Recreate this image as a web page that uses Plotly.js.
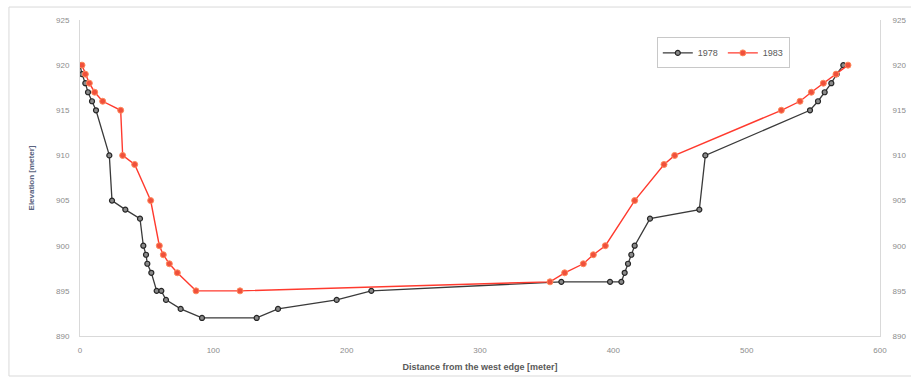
<!DOCTYPE html>
<html>
<head>
<meta charset="utf-8">
<script src="https://cdn.plot.ly/plotly-3.0.1.min.js"></script>
<style>html,body{margin:0;padding:0;background:#fff;}#chart{width:911px;height:378px;}</style>
</head>
<body>
<div id="chart"></div>
<script>
// Distance from the west edge [meter] and elevation [meter]
const x1978 = [0, 1.5, 4, 6, 9, 12, 22, 24, 34, 45, 47.5, 49.5, 50.5, 53.5, 57.5, 61, 64.5, 75.5, 91.5, 132.5, 148.5, 192.5, 218.5, 361, 397.5, 406, 408.5, 411, 413.5, 416, 427.5, 464.5, 469, 547.5, 553.5, 558.5, 563.5, 567.5, 572.5];
const y1978 = [920, 919, 918, 917, 916, 915, 910, 905, 904, 903, 900, 899, 898, 897, 895, 895, 894, 893, 892, 892, 893, 894, 895, 896, 896, 896, 897, 898, 899, 900, 903, 904, 910, 915, 916, 917, 918, 919, 920];
const x1983 = [1.5, 4, 7, 11, 17, 30.5, 32, 41, 53, 59.5, 62.5, 67, 73, 87, 120, 352.5, 363.5, 377.5, 385, 394, 416, 438, 446, 526, 540, 548.5, 557.5, 567, 576];
const y1983 = [920, 919, 918, 917, 916, 915, 910, 909, 905, 900, 899, 898, 897, 895, 895, 896, 897, 898, 899, 900, 905, 909, 910, 915, 916, 917, 918, 919, 920];
const seriesNames = ['1978', '1983'];
const xTitle = 'Distance from the west edge [meter]';
const yTitle = 'Elevation [meter]';

const font = 'Liberation Sans, Arial, sans-serif';
const traces = [
  {x: x1978, y: y1978, name: seriesNames[0], type: 'scatter', mode: 'lines+markers',
   line: {color: '#3a3a3a', width: 1.3},
   marker: {symbol: 'circle', size: 5, color: '#8a8a8a', line: {color: '#262626', width: 1.2}}},
  {x: x1983, y: y1983, name: seriesNames[1], type: 'scatter', mode: 'lines+markers',
   line: {color: '#ff3a2e', width: 1.4},
   marker: {symbol: 'circle', size: 6, color: '#f0503c', line: {color: '#ff8a5c', width: 1}}},
  {x: x1978, y: y1978, yaxis: 'y2', type: 'scatter', mode: 'none', showlegend: false, hoverinfo: 'skip'}
];
const axisCommon = {showgrid: false, zeroline: false, showline: true, linecolor: '#d9d9d9', linewidth: 1,
  ticks: '', tickfont: {family: font, size: 8, color: '#8c8c8c'}};
const layout = {
  width: 911, height: 378,
  margin: {l: 80, r: 31, t: 20, b: 42},
  paper_bgcolor: '#fff', plot_bgcolor: '#fff',
  showlegend: true,
  legend: {orientation: 'h', x: 0.721, y: 0.945, xanchor: 'left', yanchor: 'top', itemwidth: 30,
    bgcolor: '#fff', bordercolor: '#c8c8c8', borderwidth: 1,
    font: {family: font, size: 9, color: '#595959'}},
  xaxis: Object.assign({}, axisCommon, {range: [0, 600], dtick: 100, tick0: 0, ticklabelstandoff: 6,
    title: {text: '<b>' + xTitle + '</b>', font: {family: font, size: 9, color: '#595959'}, standoff: 10}}),
  yaxis: Object.assign({}, axisCommon, {range: [890, 925], dtick: 5, tick0: 890, ticklabelstandoff: 8,
    title: {text: '<b>' + yTitle + '</b>', font: {family: font, size: 8, color: '#5a6480'}, standoff: 20}}),
  yaxis2: Object.assign({}, axisCommon, {range: [890, 925], dtick: 5, tick0: 890, overlaying: 'y', side: 'right', ticklabelstandoff: 10}),
  shapes: [{type: 'rect', xref: 'paper', yref: 'paper', x0: -0.0888, x1: 1.045, y0: -0.1266, y1: 1.041,
    line: {color: '#d9d9d9', width: 1}, fillcolor: 'rgba(0,0,0,0)', layer: 'below'}]
};
Plotly.newPlot('chart', traces, layout, {displayModeBar: false, staticPlot: true});
</script>
</body>
</html>
